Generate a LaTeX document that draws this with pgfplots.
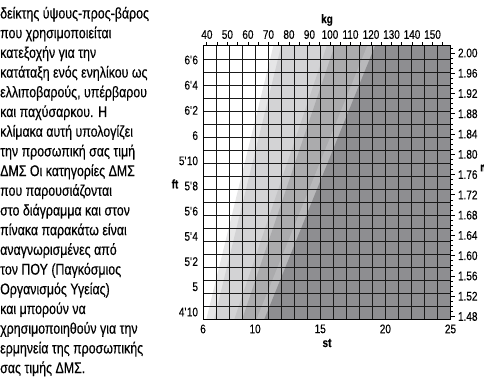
\documentclass[border=0pt]{standalone}
\usepackage{fontspec}
\setmainfont{Liberation Sans}[FakeStretch=0.8, FakeBold=0.35]
\usepackage{pgfplots}
\pgfplotsset{compat=1.18}
\definecolor{cA}{HTML}{E6E6E7}
\definecolor{cB}{HTML}{D3D3D5}
\definecolor{cC}{HTML}{C4C4C6}
\definecolor{cD}{HTML}{ABABAD}
\definecolor{cE}{HTML}{B9B9BB}
\definecolor{cF}{HTML}{8E8E91}
\newcommand{\q}{\textquotesingle}
\begin{document}
\begin{tikzpicture}
\path[use as bounding box] (0bp,0bp) rectangle (484bp,380bp);
\foreach \t [count=\i] in {
{δείκτης ύψους-προς-βάρος},
{που χρησιμοποιείται},
{κατεξοχήν για την},
{κατάταξη ενός ενηλίκου ως},
{ελλιποβαρούς, υπέρβαρου},
{και παχύσαρκου. Η},
{κλίμακα αυτή υπολογίζει},
{την προσωπική σας τιμή},
{ΔΜΣ Οι κατηγορίες ΔΜΣ},
{που παρουσιάζονται},
{στο διάγραμμα και στον},
{πίνακα παρακάτω είναι},
{αναγνωρισμένες από},
{τον ΠΟΥ (Παγκόσμιος},
{Οργανισμός Υγείας)},
{και μπορούν να},
{χρησιμοποιηθούν για την},
{ερμηνεία της προσωπικής},
{σας τιμής ΔΜΣ.}} {
  \pgfmathsetmacro\yy{361.5-(\i-1)*19.7}
  \node[anchor=base west, inner sep=0pt, font=\fontsize{15.5bp}{18bp}\selectfont] at (0bp,\yy bp) {\t};
}
% main axis: stones x metres
\begin{axis}[
  at={(203bp,60.5bp)}, anchor=south west,
  scale only axis, width=247.5bp, height=273.5bp,
  xmin=6, xmax=25, ymin=1.4741, ymax=2.0138,
  axis on top,
  axis line style={black, line width=1bp},
  xtick={6,...,25},
  xticklabels={6,,,,10,,,,,15,,,,,20,,,,,25},
  ytick={1.98810,1.96241,1.93671,1.91102,1.88532,1.85962,1.83393,1.80823,1.78254,1.75684,1.73114,1.70545,1.67975,1.65406,1.62836,1.60266,1.57697,1.55127,1.52558,1.49988},
  yticklabels={},
  extra y ticks={1.4888,1.5386,1.5883,1.6380,1.6878,1.7375,1.7872,1.8370,1.8867,1.9364,1.9862},
  extra y tick labels={{4\q10},{5},{5\q2},{5\q4},{5\q6},{5\q8},{5\q10},{6},{6\q2},{6\q4},{6\q6}},
  extra y tick style={grid=none},
  major tick length=0pt,
  grid=major,
  major grid style={black!90, line width=1bp},
  tick label style={font=\fontsize{12.5bp}{13bp}\selectfont},
  /pgf/number format/assume math mode=true,
  xticklabel style={yshift=-1.5bp},
  yticklabel style={xshift=-1.5bp},
]
\addplot[fill=cA, draw=none] coordinates {(6.25,1.4741) (25,1.4741) (25,2.0138) (11.4,2.0138)};
\addplot[fill=cB, draw=none] coordinates {(6.85,1.4741) (25,1.4741) (25,2.0138) (12.0,2.0138)};
\addplot[fill=cC, draw=none] coordinates {(8.4,1.4741) (25,1.4741) (25,2.0138) (15.5,2.0138)};
\addplot[fill=cD, draw=none] coordinates {(9.0,1.4741) (25,1.4741) (25,2.0138) (16.1,2.0138)};
\addplot[fill=cE, draw=none] coordinates {(10.1,1.4741) (25,1.4741) (25,2.0138) (18.6,2.0138)};
\addplot[fill=cF, draw=none] coordinates {(10.7,1.4741) (25,1.4741) (25,2.0138) (19.2,2.0138)};
\end{axis}
% top axis: kg
\begin{axis}[
  at={(203bp,60.5bp)}, anchor=south west,
  scale only axis, width=247.5bp, height=273.5bp,
  xmin=38.102, xmax=158.757, ymin=0, ymax=1,
  axis x line*=top, axis y line=none,
  axis line style={black, line width=1bp},
  xtick={40,50,...,150}, minor xtick={45,55,...,155},
  tick align=outside, major tick length=3.5bp, minor tick length=3.5bp,
  tick style={black, line width=0.8bp},
  tick label style={font=\fontsize{12.5bp}{13bp}\selectfont},
  /pgf/number format/assume math mode=true,
]
\end{axis}
% right axis: metres
\begin{axis}[
  at={(203bp,60.5bp)}, anchor=south west,
  scale only axis, width=247.5bp, height=273.5bp,
  xmin=0, xmax=1, ymin=1.4741, ymax=2.0138,
  axis y line*=right, axis x line=none,
  axis line style={black, line width=1bp},
  ytick={1.48,1.52,1.56,1.60,1.64,1.68,1.72,1.76,1.80,1.84,1.88,1.92,1.96,2.00},
  minor ytick={1.49,1.50,1.51,1.53,1.54,1.55,1.57,1.58,1.59,1.61,1.62,1.63,1.65,1.66,1.67,1.69,1.70,1.71,1.73,1.74,1.75,1.77,1.78,1.79,1.81,1.82,1.83,1.85,1.86,1.87,1.89,1.90,1.91,1.93,1.94,1.95,1.97,1.98,1.99,2.01},
  tick align=outside, major tick length=4bp, minor tick length=2.5bp,
  tick style={black, line width=0.8bp},
  tick label style={font=\fontsize{12.5bp}{13bp}\selectfont},
  yticklabel style={/pgf/number format/.cd, fixed, fixed zerofill, precision=2, assume math mode=true},
]
\end{axis}
\node[font=\bfseries\fontsize{12.5bp}{13bp}\selectfont] at (327bp,360bp) {kg};
\node[font=\bfseries\fontsize{12.5bp}{13bp}\selectfont] at (327bp,37bp) {st};
\node[font=\bfseries\fontsize{12.5bp}{13bp}\selectfont] at (175bp,196bp) {ft};
\node[anchor=west, inner sep=0pt, font=\bfseries\fontsize{12.5bp}{13bp}\selectfont] at (480bp,212bp) {m};
\end{tikzpicture}
\end{document}
